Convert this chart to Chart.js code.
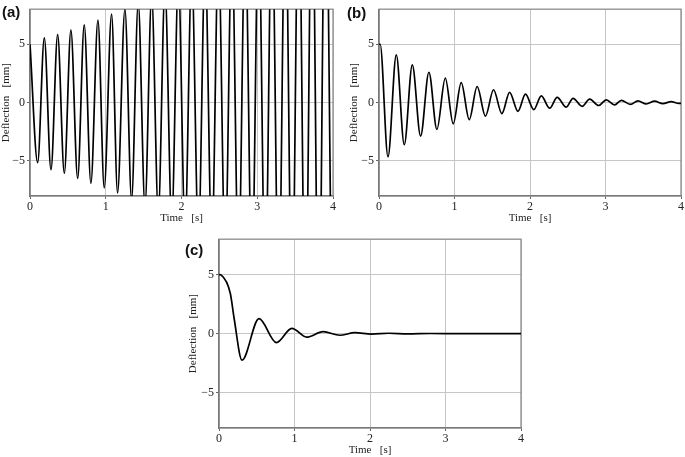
<!DOCTYPE html>
<html>
<head>
<meta charset="utf-8">
<script src="https://cdn.jsdelivr.net/npm/chart.js@4.4.1/dist/chart.umd.min.js"></script>
<style>
  body { margin: 0; background: #fff; width: 685px; height: 457px; position: relative; overflow: hidden; }
  .panel { position: absolute; }
  .tag { position: absolute; font: bold 15px 'Liberation Sans', Arial, sans-serif; line-height: 15px; color: #111; }
</style>
</head>
<body>
<canvas class="panel" id="chartA" width="340" height="225" style="left:0;top:0"></canvas>
<canvas class="panel" id="chartB" width="340" height="225" style="left:345px;top:0"></canvas>
<canvas class="panel" id="chartC" width="360" height="227" style="left:170px;top:230px"></canvas>
<div class="tag" style="left:2px;top:4px">(a)</div>
<div class="tag" style="left:347px;top:5px">(b)</div>
<div class="tag" style="left:185px;top:242px">(c)</div>
<script>
const xTicks = [0, 1, 2, 3, 4];
const yTicks = [-5, 0, 5];

// (a) growing oscillation: turning points (time s, deflection mm), clipped at +-8
const timeA = [0, 0.101, 0.189, 0.277, 0.365, 0.453, 0.540, 0.629, 0.716, 0.804, 0.897, 0.980, 1.077, 1.156, 1.253,
  1.341, 1.429, 1.518, 1.606, 1.694, 1.782, 1.871, 1.959, 2.047, 2.135, 2.224, 2.312, 2.400, 2.488, 2.577, 2.665,
  2.753, 2.841, 2.930, 3.018, 3.106, 3.194, 3.283, 3.371, 3.459, 3.547, 3.636, 3.724, 3.812, 3.900, 3.989];
const deflA = [5, -5.14, 5.55, -5.75, 5.83, -6.05, 6.2, -6.5, 6.66, -6.9, 7.07, -7.3, 7.57, -7.73, 8.0,
  -8.3, 8.55, -8.85, 9.15, -9.45, 9.8, -10.1, 10.45, -10.8, 11.2, -11.6, 12.0, -12.4, 12.8, -13.2, 13.7,
  -14.1, 14.6, -15.1, 15.6, -16.1, 16.7, -17.2, 17.8, -18.4, 19.0, -19.7, 20.4, -21.1, 21.8, -22.5];

// (b) lightly damped
const timeB = [0, 0.015, 0.119, 0.229, 0.335, 0.441, 0.551, 0.661, 0.767, 0.878, 0.983, 1.089, 1.195, 1.30, 1.41,
  1.517, 1.627, 1.73, 1.84, 1.94, 2.05, 2.15, 2.26, 2.36, 2.48, 2.57, 2.69, 2.79, 2.91, 3.01, 3.12, 3.21, 3.33,
  3.43, 3.54, 3.65, 3.76, 3.87, 3.97, 4.0];
const deflB = [5, 5, -4.64, 4.09, -3.6, 3.23, -2.87, 2.6, -2.3, 2.1, -1.82, 1.71, -1.46, 1.38, -1.16,
  1.1, -0.94, 0.88, -0.75, 0.72, -0.6, 0.57, -0.48, 0.45, -0.39, 0.37, -0.32, 0.3, -0.25, 0.24, -0.2, 0.19, -0.15,
  0.15, -0.12, 0.12, -0.09, 0.09, -0.07, -0.06];

// (c) strongly damped
const timeC = [0, 0.03, 0.15, 0.2, 0.305, 0.53, 0.76, 0.965, 1.16, 1.38, 1.6, 1.80, 2.02, 2.25, 2.5, 2.8, 3.2, 4.0];
const deflC = [5, 4.95, 3.4, 1.3, -2.25, 1.27, -0.76, 0.45, -0.3, 0.16, -0.14, 0.08, -0.05, 0.03, -0.02, 0.01, 0, 0];

const serif = { family: "'Liberation Serif', 'Times New Roman', serif", size: 11 };
const tickFont = { family: "'Liberation Serif', 'Times New Roman', serif", size: 12 };

const framePlugin = {
  id: 'frame',
  beforeDatasetsDraw(chart) {
    const { ctx, chartArea: a } = chart;
    ctx.save();
    ctx.strokeStyle = '#8c8c8c';
    ctx.lineWidth = 1.3;
    ctx.strokeRect(a.left, a.top, a.width, a.height);
    ctx.restore();
  }
};

function makeChart(id, times, values, yW, xH, pad, yTitlePad) {
  const ctx = document.getElementById(id).getContext('2d');
  return new Chart(ctx, {
    type: 'line',
    data: {
      datasets: [{
        data: times.map((t, i) => ({ x: t, y: values[i] })),
        borderColor: '#000',
        borderWidth: 1.7,
        pointRadius: 0,
        fill: false,
        cubicInterpolationMode: 'monotone'
      }]
    },
    plugins: [framePlugin],
    options: {
      responsive: false,
      animation: false,
      layout: { padding: pad },
      plugins: { legend: { display: false }, tooltip: { enabled: false } },
      scales: {
        x: {
          type: 'linear', min: 0, max: 4,
          afterBuildTicks: (s) => { s.ticks = xTicks.map((v) => ({ value: v })); },
          afterFit: (s) => { s.height = xH; },
          grid: { color: '#c6c6c6', tickLength: 3, tickColor: '#666' },
          border: { color: '#555', width: 1.3 },
          ticks: { color: '#222', font: tickFont, padding: 1, maxRotation: 0, autoSkip: false },
          title: { display: true, text: 'Time   [s]', color: '#222', font: serif, padding: 0 }
        },
        y: {
          type: 'linear', min: -8, max: 8,
          afterBuildTicks: (s) => { s.ticks = yTicks.map((v) => ({ value: v })); },
          afterFit: (s) => { s.width = yW; },
          grid: { color: '#c6c6c6', tickLength: 3, tickColor: '#666' },
          border: { color: '#555', width: 1.3 },
          ticks: {
            color: '#222', font: tickFont, padding: 2,
            callback: (v) => (v < 0 ? '\u2212' + Math.abs(v) : String(v))
          },
          title: { display: true, text: 'Deflection   [mm]', color: '#222', font: serif, padding: { top: yTitlePad, bottom: 0 } }
        }
      }
    }
  });
}

makeChart('chartA', timeA, deflA, 30, 29, { left: 0, top: 2, right: 7, bottom: 0 }, 0);
makeChart('chartB', timeB, deflB, 34, 29, { left: 0, top: 2, right: 3, bottom: 0 }, 2.5);
makeChart('chartC', timeC, deflC, 49, 29, { left: 0, top: 4, right: 9, bottom: 0 }, 17);
</script>
</body>
</html>
